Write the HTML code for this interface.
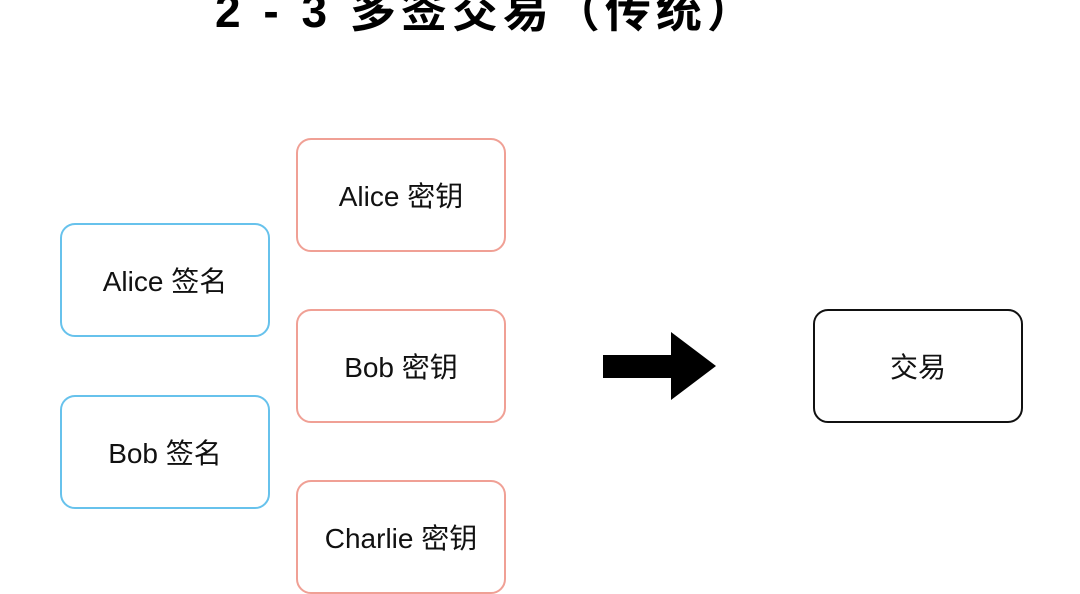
<!DOCTYPE html>
<html><head><meta charset="utf-8"><style>
body{margin:0;width:1080px;height:575px;background:#fff;position:relative;overflow:hidden;font-family:"Liberation Sans","Noto Sans CJK SC",sans-serif;}
.t{position:absolute;left:215px;top:-14px;font-size:46px;font-weight:bold;line-height:50px;white-space:nowrap;color:#000;letter-spacing:5px}
.b{position:absolute;width:206px;height:110px;border:2px solid;border-radius:15px;display:flex;align-items:center;justify-content:center;font-size:28px;color:#111;box-sizing:content-box}
.bl{border-color:#67c2ec}.pk{border-color:#f0a095}.bk{border-color:#111}
</style></head><body>
<div class="t">2 - 3 多签交易（传统）</div>
<div class="b pk" style="left:296px;top:138px">Alice 密钥</div>
<div class="b pk" style="left:296px;top:309px">Bob 密钥</div>
<div class="b pk" style="left:296px;top:480px">Charlie 密钥</div>
<div class="b bl" style="left:60px;top:223px">Alice 签名</div>
<div class="b bl" style="left:60px;top:395px">Bob 签名</div>
<div class="b bk" style="left:813px;top:309px">交易</div>
<svg style="position:absolute;left:0;top:0" width="1080" height="575"><polygon points="603,355 671,355 671,332 716,366 671,400 671,378 603,378" fill="#000"/></svg>
</body></html>
